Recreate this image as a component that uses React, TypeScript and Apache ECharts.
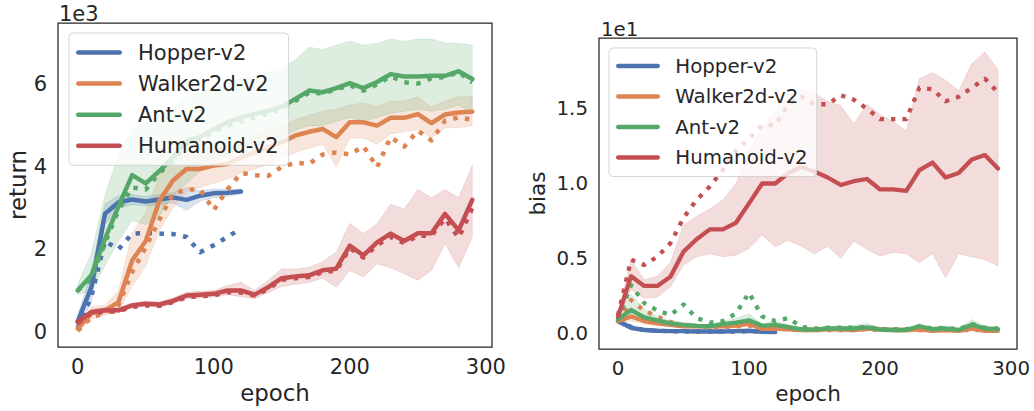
import React, { useEffect, useRef } from 'react';
import * as echarts from 'echarts';

const FONT = 'DejaVu Sans';
const INK = '#262626';

const epochs = [0, 10, 20, 30, 40, 50, 60, 70, 80, 90, 100, 110, 120, 130, 140, 150, 160, 170, 180, 190, 200, 210, 220, 230, 240, 250, 260, 270, 280, 290];
const envNames = ['Hopper-v2', 'Walker2d-v2', 'Ant-v2', 'Humanoid-v2'];
const envColors = ['#4C72B0', '#DD8452', '#55A868', '#C44E52'];

// ---- return (left panel) ----
const hopperRet = [250, 1080, 2860, 3140, 3210, 3160, 3210, 3260, 3200, 3300, 3360, 3370, 3400];
const hopperRetLo = [100, 700, 2600, 3000, 3080, 3050, 3080, 3130, 2950, 3170, 3250, 3290, 3340];
const hopperRetHi = [400, 1450, 3100, 3300, 3330, 3280, 3330, 3370, 3500, 3420, 3460, 3450, 3460];
const hopperRetAlt = [100, 850, 2200, 2000, 2380, 2400, 2380, 2370, 2300, 1930, 2100, 2300, 2500];

const walkerRet = [80, 450, 520, 720, 1730, 2200, 3180, 3670, 3950, 3950, 4030, 4070, 4230, 4350, 4470, 4600, 4760, 4850, 4920, 4720, 5080, 5080, 5000, 5190, 5190, 5280, 5060, 5270, 5320, 5340];
const walkerRetLo = [0, 300, 400, 500, 1100, 1600, 2450, 3000, 3400, 3500, 3600, 3700, 3850, 3950, 4050, 4200, 4350, 4450, 4550, 4000, 4700, 4700, 4550, 4800, 4850, 4900, 4700, 4950, 4950, 5000];
const walkerRetHi = [150, 600, 650, 1000, 2400, 2900, 3800, 4200, 4400, 4400, 4450, 4450, 4600, 4750, 4900, 5000, 5150, 5250, 5350, 5400, 5500, 5550, 5450, 5600, 5600, 5700, 5450, 5600, 5700, 5700];
const walkerRetAlt = [20, 350, 450, 650, 1450, 2050, 2720, 3350, 3450, 3450, 2950, 3450, 3850, 3800, 3780, 4000, 4100, 4070, 4300, 4350, 4300, 4500, 3990, 4720, 4490, 4880, 4640, 5120, 5200, 5140];

const antRet = [1000, 1370, 2250, 3050, 3800, 3600, 3900, 4230, 4640, 4720, 4920, 5080, 5200, 5280, 5360, 5460, 5650, 5850, 5810, 5910, 6030, 5910, 6060, 6250, 6190, 6190, 6210, 6210, 6320, 6130];
const antRetLo = [900, 1000, 1600, 2200, 2700, 2600, 2800, 3300, 3600, 3900, 4100, 4300, 4400, 4500, 4600, 4700, 4900, 5000, 5000, 5100, 5200, 5100, 5200, 5300, 5350, 5400, 5350, 5400, 5500, 5300];
const antRetHi = [1150, 1900, 3300, 4300, 4950, 5050, 5300, 5500, 5700, 5800, 5950, 6050, 6150, 6200, 6300, 6400, 6600, 6900, 6850, 6950, 7050, 6950, 7000, 7100, 7050, 7100, 7100, 7000, 7000, 6950];
const antRetAlt = [1000, 1300, 2150, 2950, 3500, 3450, 3850, 4150, 4550, 4650, 4850, 5000, 5100, 5200, 5300, 5400, 5600, 5800, 5780, 5880, 5980, 5850, 6000, 6200, 6050, 6020, 6150, 6180, 6300, 6050];

const humanoidRet = [240, 480, 520, 520, 640, 680, 660, 750, 880, 900, 920, 1000, 1000, 900, 1080, 1300, 1340, 1370, 1490, 1530, 2090, 1850, 2170, 2380, 2200, 2390, 2390, 2860, 2460, 3200];
const humanoidRetLo = [200, 420, 460, 470, 580, 620, 600, 680, 800, 820, 840, 900, 850, 800, 950, 1100, 1150, 1200, 1300, 1080, 1490, 1330, 1650, 1550, 1410, 1250, 1490, 2140, 1550, 2300];
const humanoidRetHi = [280, 540, 580, 580, 700, 740, 720, 820, 960, 980, 1000, 1120, 1200, 1000, 1250, 1530, 1520, 1560, 1700, 1930, 2630, 2380, 2620, 3090, 2980, 3450, 3250, 3450, 3250, 4030];
const humanoidRetAlt = [200, 450, 480, 500, 600, 640, 630, 720, 840, 860, 880, 960, 950, 880, 1040, 1260, 1300, 1330, 1450, 1480, 2030, 1800, 2100, 2300, 2150, 2330, 2330, 2750, 2280, 3000];

// ---- bias (right panel) ----
const hopperBias = [0.8, 0.35, 0.2, 0.15, 0.12, 0.12, 0.1, 0.1, 0.1, 0.12, 0.15, 0.08, 0.06];
const hopperBiasLo = [0.6, 0.2, 0.1, 0.08, 0.06, 0.06, 0.05, 0.05, 0.05, 0.06, 0.08, 0.03, 0.02];
const hopperBiasHi = [1.0, 0.55, 0.32, 0.25, 0.2, 0.2, 0.17, 0.17, 0.17, 0.2, 0.24, 0.14, 0.1];
const hopperBiasAlt = [0.8, 0.4, 0.2, 0.15, 0.12, 0.1, 0.1, 0.1, 0.1, 0.1, 0.12, 0.1, 0.07];

const walkerBias = [0.78, 1.1, 0.8, 0.65, 0.55, 0.45, 0.45, 0.45, 0.45, 0.5, 0.62, 0.27, 0.3, 0.25, 0.2, 0.2, 0.25, 0.25, 0.2, 0.3, 0.25, 0.2, 0.2, 0.25, 0.15, 0.2, 0.15, 0.3, 0.15, 0.15];
const walkerBiasLo = [0.65, 0.8, 0.6, 0.5, 0.42, 0.33, 0.33, 0.33, 0.33, 0.36, 0.45, 0.15, 0.18, 0.13, 0.08, 0.08, 0.12, 0.05, 0.08, 0.15, 0.12, 0.08, 0.08, 0.12, 0.05, 0.08, 0.05, 0.15, 0.05, 0.05];
const walkerBiasHi = [0.9, 1.45, 1.05, 0.82, 0.7, 0.58, 0.58, 0.58, 0.58, 0.65, 0.8, 0.4, 0.45, 0.38, 0.32, 0.32, 0.4, 0.45, 0.32, 0.45, 0.38, 0.32, 0.32, 0.4, 0.28, 0.32, 0.28, 0.45, 0.28, 0.28];
const walkerBiasAlt = [0.8, 2.2, 1.5, 1.1, 0.75, 0.5, 0.45, 0.4, 0.4, 0.45, 0.5, 0.3, 0.3, 0.25, 0.2, 0.2, 0.2, 0.2, 0.2, 0.25, 0.2, 0.2, 0.2, 0.2, 0.2, 0.2, 0.2, 0.2, 0.2, 0.2];

const antBias = [0.9, 1.55, 1.05, 0.85, 0.65, 0.55, 0.48, 0.45, 0.6, 0.7, 0.85, 0.48, 0.55, 0.4, 0.25, 0.22, 0.3, 0.3, 0.3, 0.38, 0.22, 0.2, 0.2, 0.45, 0.25, 0.3, 0.2, 0.55, 0.3, 0.25];
const antBiasLo = [0.8, 1.0, 0.8, 0.65, 0.5, 0.45, 0.4, 0.38, 0.45, 0.5, 0.55, 0.38, 0.4, 0.3, 0.15, 0.12, 0.2, 0.2, 0.2, 0.2, 0.12, 0.12, 0.12, 0.3, 0.15, 0.2, 0.12, 0.3, 0.2, 0.15];
const antBiasHi = [1.0, 2.6, 1.6, 1.1, 0.8, 0.7, 0.6, 0.55, 0.8, 0.95, 1.3, 0.6, 0.8, 0.55, 0.35, 0.32, 0.45, 0.45, 0.5, 0.65, 0.35, 0.3, 0.3, 0.6, 0.4, 0.45, 0.3, 0.9, 0.45, 0.35];
const antBiasAlt = [0.9, 3.2, 2.0, 1.5, 1.2, 1.9, 1.0, 0.7, 0.8, 1.3, 2.7, 1.1, 0.8, 1.0, 0.4, 0.3, 0.35, 0.35, 0.35, 0.4, 0.25, 0.25, 0.25, 0.45, 0.3, 0.35, 0.25, 0.6, 0.35, 0.3];

const humanoidBias = [1.1, 3.8, 3.15, 3.15, 3.77, 5.44, 6.27, 6.93, 6.93, 7.37, 8.67, 10.0, 10.0, 10.7, 11.1, 10.8, 10.4, 9.9, 10.15, 10.3, 9.6, 9.6, 9.5, 10.9, 11.4, 10.4, 10.7, 11.6, 11.9, 11.0];
const humanoidBiasLo = [0.9, 2.9, 2.33, 2.4, 3.1, 4.55, 5.1, 5.3, 5.1, 5.2, 5.67, 6.55, 5.77, 6.2, 5.8, 5.3, 5.8, 5.0, 6.15, 5.6, 5.15, 5.4, 5.3, 4.7, 5.3, 3.7, 5.3, 5.1, 4.9, 4.5];
const humanoidBiasHi = [1.3, 4.9, 3.55, 3.8, 4.7, 7.2, 7.8, 8.3, 8.9, 10.0, 12.2, 13.8, 14.9, 15.9, 16.3, 16.0, 15.5, 15.2, 14.0, 15.3, 14.6, 14.15, 13.5, 17.0, 17.4, 16.9, 16.2, 18.0, 18.8, 17.6];
const humanoidBiasAlt = [1.2, 4.9, 4.55, 5.1, 6.0, 7.7, 8.9, 9.8, 10.9, 12.2, 13.0, 13.9, 13.9, 15.3, 15.8, 15.3, 15.3, 15.9, 15.6, 15.0, 14.3, 14.3, 14.3, 16.4, 16.3, 15.5, 15.8, 16.4, 17.0, 16.1];

const returnTicks = [0, 2000, 4000, 6000];
const biasTicks = [0, 5, 10, 15];
const epochTicks = [0, 100, 200, 300];

type Curve = { mean: number[]; lo: number[]; hi: number[]; alt: number[] };

const returnCurves: Curve[] = [
  { mean: hopperRet, lo: hopperRetLo, hi: hopperRetHi, alt: hopperRetAlt },
  { mean: walkerRet, lo: walkerRetLo, hi: walkerRetHi, alt: walkerRetAlt },
  { mean: antRet, lo: antRetLo, hi: antRetHi, alt: antRetAlt },
  { mean: humanoidRet, lo: humanoidRetLo, hi: humanoidRetHi, alt: humanoidRetAlt },
];
const biasCurves: Curve[] = [
  { mean: hopperBias, lo: hopperBiasLo, hi: hopperBiasHi, alt: hopperBiasAlt },
  { mean: walkerBias, lo: walkerBiasLo, hi: walkerBiasHi, alt: walkerBiasAlt },
  { mean: antBias, lo: antBiasLo, hi: antBiasHi, alt: antBiasAlt },
  { mean: humanoidBias, lo: humanoidBiasLo, hi: humanoidBiasHi, alt: humanoidBiasAlt },
];

// Shaded spread between lo and hi, drawn as one polygon through the axis scales.
function bandSeries(axis: number, lo: number[], hi: number[], color: string) {
  const rows = lo.map((l, i) => [epochs[i], l, hi[i]]);
  return {
    type: 'custom',
    xAxisIndex: axis,
    yAxisIndex: axis,
    data: rows,
    encode: { x: 0, y: [1, 2] },
    silent: true,
    clip: true,
    renderItem: (params: any, api: any) => {
      if (params.dataIndex !== 0) return null;
      const top = rows.map((r) => api.coord([r[0], r[2]]));
      const bottom = rows.map((r) => api.coord([r[0], r[1]])).reverse();
      return {
        type: 'polygon',
        shape: { points: top.concat(bottom) },
        style: { fill: color, stroke: color, lineWidth: 0.8, opacity: 0.2 },
      };
    },
  };
}

function lineSeries(name: string, axis: number, values: number[], color: string, width: number, dotted: boolean) {
  return {
    type: 'line',
    name,
    xAxisIndex: axis,
    yAxisIndex: axis,
    data: values.map((v, i) => [epochs[i], v]),
    symbol: 'none',
    showSymbol: false,
    color,
    silent: true,
    clip: true,
    emphasis: { disabled: true },
    lineStyle: {
      color,
      width,
      type: dotted ? [width, width * 1.65] : 'solid',
      cap: dotted ? 'butt' : 'round',
      join: 'round',
    },
  };
}

function panelSeries(curves: Curve[], axis: number, width: number) {
  const out: any[] = [];
  curves.forEach((c, k) => {
    out.push(bandSeries(axis, c.lo, c.hi, envColors[k]));
    out.push(lineSeries(envNames[k] + ' (alt)', axis, c.alt, envColors[k], width, true));
    out.push(lineSeries(envNames[k], axis, c.mean, envColors[k], width, false));
  });
  return out;
}

function legendFor(left: number, top: number, size: number, handle: number, thick: number, gap: number, textGap: number, pad: number[]) {
  const r = thick / 2;
  const icon = `path://M${r},0H${handle - r}A${r},${r},0,0,1,${handle - r},${thick}H${r}A${r},${r},0,0,1,${r},0Z`;
  return {
    data: envNames,
    orient: 'vertical',
    left,
    top,
    icon,
    itemWidth: handle,
    itemHeight: thick,
    itemGap: gap,
    itemStyle: { borderWidth: 0 },
    selectedMode: false,
    textStyle: { fontFamily: FONT, fontSize: size, color: INK, padding: [0, 0, 0, textGap] },
    backgroundColor: 'rgba(255,255,255,0.8)',
    borderColor: 'rgba(204,204,204,0.8)',
    borderWidth: 1,
    borderRadius: 4,
    padding: pad,
  };
}

function xAxisFor(grid: number, size: number, nameSize: number, gap: number) {
  return {
    type: 'value',
    gridIndex: grid,
    min: -14.5,
    max: 304.5,
    name: 'epoch',
    nameLocation: 'middle',
    nameGap: gap,
    nameTextStyle: { fontFamily: FONT, fontSize: nameSize, color: INK },
    axisLine: { show: false },
    axisTick: { show: false },
    splitLine: { show: false },
    axisLabel: { customValues: epochTicks, fontFamily: FONT, fontSize: size, color: INK, margin: 9 },
  };
}

export default function App() {
  const ref = useRef<HTMLDivElement>(null);

  useEffect(() => {
    if (!ref.current) return;
    const chart = echarts.init(ref.current, undefined, { renderer: 'svg' });
    const L = 21;
    const LN = 22.9;
    const R = 19.8;
    const RN = 21.6;
    chart.setOption({
      animation: false,
      textStyle: { fontFamily: FONT },
      grid: [
        { left: 58, top: 23, width: 434, height: 324, show: true, borderColor: INK, borderWidth: 1.25, backgroundColor: 'transparent' },
        { left: 599, top: 38, width: 418, height: 311, show: true, borderColor: INK, borderWidth: 1.25, backgroundColor: 'transparent' },
      ],
      xAxis: [xAxisFor(0, L, LN, 30), xAxisFor(1, R, RN, 29)],
      yAxis: [
        {
          type: 'value',
          gridIndex: 0,
          min: -370,
          max: 7490,
          name: 'return',
          nameLocation: 'middle',
          nameGap: 28,
          nameTextStyle: { fontFamily: FONT, fontSize: LN, color: INK },
          axisLine: { show: false },
          axisTick: { show: false },
          splitLine: { show: false },
          axisLabel: { customValues: returnTicks, formatter: (v: number) => String(v / 1000), fontFamily: FONT, fontSize: L, color: INK, margin: 11 },
        },
        {
          type: 'value',
          gridIndex: 1,
          min: -1.07,
          max: 19.73,
          name: 'bias',
          nameLocation: 'middle',
          nameGap: 51,
          nameTextStyle: { fontFamily: FONT, fontSize: RN, color: INK },
          axisLine: { show: false },
          axisTick: { show: false },
          splitLine: { show: false },
          axisLabel: { customValues: biasTicks, formatter: (v: number) => (v / 10).toFixed(1), fontFamily: FONT, fontSize: R, color: INK, margin: 11 },
        },
      ],
      legend: [
        legendFor(69, 33, L, 46, 4.5, 10.1, 11, [9, 10, 9, 7]),
        legendFor(609, 48, R, 44, 4.3, 10.5, 10.3, [8, 9, 9, 7]),
      ],
      graphic: [
        { type: 'text', left: 59, top: 3, style: { text: '1e3', fontFamily: FONT, fontSize: L, fill: INK } },
        { type: 'text', left: 601, top: 19, style: { text: '1e1', fontFamily: FONT, fontSize: R, fill: INK } },
      ],
      series: [...panelSeries(returnCurves, 0, 4.5), ...panelSeries(biasCurves, 1, 4.3)],
    });
    return () => chart.dispose();
  }, []);

  return <div ref={ref} style={{ position: 'fixed', left: 0, top: 0, width: 1034, height: 411, background: '#fff' }} />;
}
